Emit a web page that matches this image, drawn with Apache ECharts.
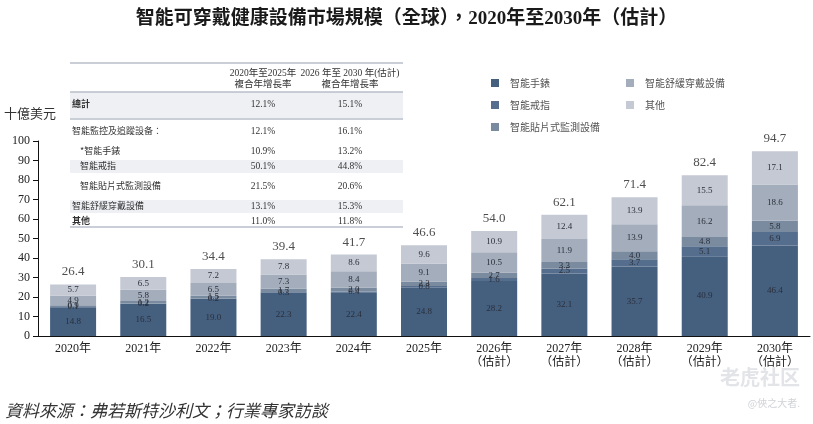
<!DOCTYPE html>
<html lang="zh-Hant">
  <head>
    <meta charset="UTF-8" />
    <title>智能可穿戴健康設備市場規模</title>
    <script src="https://cdn.jsdelivr.net/npm/echarts@6/dist/echarts.min.js"></script>
    <style>
      html, body { margin: 0; padding: 0; background: #fff; }
    </style>
  </head>
  <body>
    <div id="main" style="width: 813px; height: 424px"></div>

    <script type="text/javascript">
      // data (十億美元)
      const years = ["2020年", "2021年", "2022年", "2023年", "2024年", "2025年",
        "2026年\n（估計）", "2027年\n（估計）", "2028年\n（估計）", "2029年\n（估計）", "2030年\n（估計）"];
      const watch = [14.8, 16.5, 19.0, 22.3, 22.4, 24.8, 28.2, 32.1, 35.7, 40.9, 46.4];
      const ring = [0.1, 0.2, 0.2, 0.3, 0.4, 0.8, 1.6, 2.5, 3.7, 5.1, 6.9];
      const patch = [0.9, 1.2, 1.5, 1.7, 2.0, 2.3, 2.7, 3.3, 4.0, 4.8, 5.8];
      const soothe = [4.9, 5.8, 6.5, 7.3, 8.4, 9.1, 10.5, 11.9, 13.9, 16.2, 18.6];
      const other = [5.7, 6.5, 7.2, 7.8, 8.6, 9.6, 10.9, 12.4, 13.9, 15.5, 17.1];
      const totals = [26.4, 30.1, 34.4, 39.4, 41.7, 46.6, 54.0, 62.1, 71.4, 82.4, 94.7];

      // CAGR table
      const tableHeader1 = ["2020年至2025年", "2026 年至 2030 年(估計)"];
      const tableHeader2 = ["複合年增長率", "複合年增長率"];
      const tableRows = ["總計", "智能監控及追蹤設备：", "*智能手錶", "智能戒指", "智能貼片式監測設備", "智能舒緩穿戴設備", "其他"];
      const cagr2025 = ["12.1%", "12.1%", "10.9%", "50.1%", "21.5%", "13.1%", "11.0%"];
      const cagr2030 = ["15.1%", "16.1%", "13.2%", "44.8%", "20.6%", "15.3%", "11.8%"];

      const serif = "'Liberation Serif', 'Noto Sans CJK TC', serif";
      const cjk = "'Noto Sans CJK TC', sans-serif";

      let myChart = echarts.init(document.getElementById("main"));

      const colors = ["#455f7f", "#566e8d", "#7a8ba0", "#a3adbb", "#c4c9d3"];
      const names = ["智能手錶", "智能戒指", "智能貼片式監測設備", "智能舒緩穿戴設備", "其他"];
      const stacks = [watch, ring, patch, soothe, other];

      const barSeries = stacks.map((vals, i) => ({
        name: names[i],
        type: "bar",
        stack: "total",
        barWidth: 46,
        data: vals,
        itemStyle: { color: colors[i] },
        label: {
          show: true,
          position: "inside",
          color: "#2a2f3a",
          fontSize: 9,
          fontFamily: serif,
          formatter: (p) => p.value.toFixed(1),
        },
      }));

      // table graphic
      const tLeft = 70, tRight = 403;
      const rowY = [104, 131, 151, 166, 186, 206, 221];
      const shade = [[92, 118], [160, 173], [200, 213]];
      const graphics = [];
      shade.forEach((s) => {
        graphics.push({
          type: "rect",
          shape: { x: tLeft, y: s[0], width: tRight - tLeft, height: s[1] - s[0] },
          style: { fill: "#eef0f4" },
          z: 10,
        });
      });
      [63, 92, 119, 227].forEach((y) => {
        graphics.push({
          type: "line",
          shape: { x1: tLeft, y1: y, x2: tRight, y2: y },
          style: { stroke: "#b8bec8", lineWidth: 1.5 },
          z: 11,
        });
      });
      [263, 350].forEach((cx, i) => {
        graphics.push({
          type: "text", x: cx, y: 73,
          style: { text: tableHeader1[i], font: "9.5px " + serif, fill: "#333", align: "center", verticalAlign: "middle" },
          z: 12,
        });
        graphics.push({
          type: "text", x: cx, y: 84,
          style: { text: tableHeader2[i], font: "9.5px " + serif, fill: "#333", align: "center", verticalAlign: "middle" },
          z: 12,
        });
      });
      tableRows.forEach((label, i) => {
        const indent = i >= 2 && i <= 4 ? 80 : 72;
        const bold = i === 0 || i === 6;
        graphics.push({
          type: "text", x: indent, y: rowY[i],
          style: { text: label, font: (bold ? "bold " : "") + "9px " + cjk, fill: "#333", verticalAlign: "middle" },
          z: 12,
        });
        graphics.push({
          type: "text", x: 263, y: rowY[i],
          style: { text: cagr2025[i], font: "9.5px " + serif, fill: "#333", align: "center", verticalAlign: "middle" },
          z: 12,
        });
        graphics.push({
          type: "text", x: 350, y: rowY[i],
          style: { text: cagr2030[i], font: "9.5px " + serif, fill: "#333", align: "center", verticalAlign: "middle" },
          z: 12,
        });
      });
      // y axis unit, source, watermark
      graphics.push({
        type: "text", x: 4, y: 113,
        style: { text: "十億美元", font: "13px " + cjk, fill: "#333", verticalAlign: "middle" },
      });
      graphics.push({
        type: "text", x: 5, y: 411,
        style: { text: "資料來源：弗若斯特沙利文；行業專家訪談", font: "italic 17px " + cjk, fill: "#333", verticalAlign: "middle" },
      });
      graphics.push({
        type: "text", x: 800, y: 377,
        style: { text: "老虎社区", font: "bold 20px " + cjk, fill: "#e2e4e8", align: "right", verticalAlign: "middle" },
      });
      graphics.push({
        type: "text", x: 800, y: 403,
        style: { text: "@俠之大者.", font: "10px " + cjk, fill: "#d0d3d8", align: "right", verticalAlign: "middle" },
      });

      const options = {
        animation: false,
        title: {
          text: "智能可穿戴健康設備市場規模（全球），2020年至2030年（估計）",
          left: "center",
          top: 5,
          textStyle: { fontSize: 19, fontWeight: "bold", fontFamily: serif, color: "#1a1a1a" },
        },
        legend: [
          {
            data: names.slice(0, 3),
            orient: "vertical",
            left: 486,
            top: 73,
            itemGap: 12,
            itemWidth: 8,
            itemHeight: 8,
            icon: "rect",
            textStyle: { fontSize: 10, color: "#555", fontFamily: cjk, padding: [0, 0, 0, 6] },
          },
          {
            data: names.slice(3),
            orient: "vertical",
            left: 621,
            top: 73,
            itemGap: 12,
            itemWidth: 8,
            itemHeight: 8,
            icon: "rect",
            textStyle: { fontSize: 10, color: "#555", fontFamily: cjk, padding: [0, 0, 0, 6] },
          },
        ],
        grid: { left: 38, right: 3, top: 141, bottom: 88 },
        xAxis: {
          type: "category",
          data: years,
          axisLine: { lineStyle: { color: "#111", width: 1 } },
          axisTick: { show: false },
          axisLabel: { color: "#222", fontSize: 12, fontFamily: serif, margin: 6, lineHeight: 14 },
        },
        yAxis: {
          type: "value",
          min: 0,
          max: 100,
          interval: 10,
          splitLine: { show: false },
          axisLine: { show: true, lineStyle: { color: "#111", width: 1 } },
          axisTick: { show: true, length: 5, lineStyle: { color: "#111" } },
          axisLabel: { color: "#222", fontSize: 12, fontFamily: serif, margin: 8 },
        },
        series: barSeries.concat([
          {
            name: "total",
            type: "scatter",
            data: totals,
            symbolSize: 0,
            silent: true,
            label: {
              show: true,
              position: "top",
              distance: 6,
              color: "#222",
              fontSize: 13,
              fontFamily: serif,
              formatter: (p) => p.value.toFixed(1),
            },
          },
        ]),
        graphic: graphics,
      };

      myChart.setOption(options);
    </script>
  </body>
</html>
